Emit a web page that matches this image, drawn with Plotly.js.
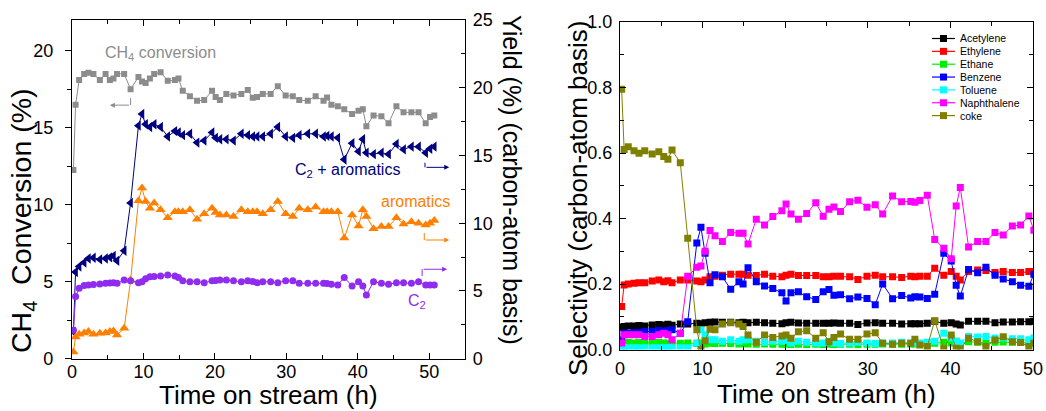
<!DOCTYPE html>
<html><head><meta charset="utf-8">
<script src="https://cdn.plot.ly/plotly-3.0.1.min.js"></script>
<style>html,body{margin:0;padding:0;background:#fff;}#c{width:1046px;height:411px;}</style>
</head><body><div id="c"></div>
<script>
// ---------- DATA ----------
const time_h = [0.2,0.5,1.0,1.7,2.3,3.0,3.9,4.7,5.3,5.8,
 6.3,7.3,8.2,9.3,9.8,10.3,10.9,11.5,12.4,13.4,
 14.4,14.9,15.5,16.5,17.5,18.5,19.6,20.1,20.7,21.6,
 22.6,23.7,24.6,25.3,25.9,26.7,27.8,28.8,29.9,30.9,
 31.8,33.0,34.1,35.2,35.7,36.3,37.2,38.1,39.2,40.1,
 40.7,41.2,42.2,43.3,44.3,45.4,46.4,47.5,48.5,49.5,
 50.1,50.7];

// Left panel
const ch4_conversion = [12.25,16.5,18.1,18.5,18.57,18.5,18.1,18.5,18.1,18.2,
 18.5,18.5,17.5,18.3,18.0,17.9,18.2,18.5,18.6,18.05,
 18.1,18.2,17.4,17.05,16.75,16.8,17.4,17.0,16.8,17.2,
 17.1,17.2,17.45,16.95,17.0,17.2,17.2,17.7,17.1,17.05,
 16.8,16.75,17.05,16.75,16.97,16.5,16.4,16.2,15.9,16.1,
 16.2,15.1,15.8,15.75,15.3,16.4,16.0,16.0,16.0,15.3,
 15.7,15.8];
const yield_c2_aromatics = [2.0,6.4,6.8,7.1,7.4,7.45,7.33,7.4,7.48,7.58,
 7.23,7.97,11.5,17.2,18.06,17.3,17.1,17.3,17.1,16.4,
 16.8,16.7,16.5,16.6,15.95,16.1,16.7,16.3,16.2,16.2,
 16.1,16.6,16.5,16.4,16.4,16.4,16.6,17.1,16.4,16.3,
 16.5,16.6,16.6,16.4,16.45,16.4,16.3,14.7,15.9,15.3,
 16.2,15.2,15.1,15.2,15.1,15.85,15.45,15.65,15.65,15.2,
 15.5,15.65];
const yield_aromatics = [0.5,1.6,1.8,1.9,2.0,1.8,1.87,1.9,2.0,2.04,
 1.75,2.24,5.8,11.66,12.6,11.6,11.1,11.5,11.0,10.4,
 10.85,10.85,10.85,11.0,10.3,10.7,11.1,10.8,10.6,10.6,
 10.5,11.0,10.85,10.85,10.85,10.7,11.0,11.6,10.7,10.5,
 11.1,11.0,11.2,10.85,10.85,10.85,10.85,8.9,10.6,9.8,
 11.0,10.5,9.6,9.75,9.75,10.4,9.95,10.1,10.0,9.87,
 10.0,10.2];
const yield_c2 = [2.1,4.6,5.2,5.4,5.44,5.47,5.52,5.56,5.58,5.6,
 5.56,5.8,5.75,5.6,5.68,5.9,6.05,6.07,6.1,6.18,
 6.1,6.0,5.75,5.68,5.68,5.6,5.75,5.78,5.8,5.8,
 5.75,5.68,5.75,5.7,5.6,5.68,5.68,5.6,5.75,5.75,
 5.56,5.56,5.56,5.56,5.55,5.5,5.44,6.0,5.37,5.68,
 5.37,4.7,5.68,5.56,5.5,5.6,5.6,5.56,5.68,5.44,
 5.44,5.44];

// Right panel (selectivity)
const sel_acetylene = [0.068,0.07,0.072,0.072,0.073,0.072,0.075,0.076,0.075,0.077,
 0.074,0.078,0.078,0.08,0.079,0.082,0.083,0.084,0.083,0.083,
 0.082,0.083,0.082,0.083,0.082,0.08,0.079,0.082,0.083,0.081,
 0.08,0.08,0.08,0.08,0.081,0.08,0.08,0.076,0.081,0.082,
 0.08,0.08,0.078,0.079,0.079,0.079,0.08,0.086,0.08,0.082,
 0.078,0.075,0.086,0.086,0.086,0.082,0.084,0.084,0.085,0.085,
 0.086,0.086];
const sel_ethylene = [0.131,0.197,0.2,0.202,0.204,0.204,0.209,0.212,0.207,0.21,
 0.204,0.212,0.212,0.209,0.207,0.212,0.222,0.224,0.227,0.23,
 0.23,0.23,0.227,0.226,0.23,0.224,0.222,0.227,0.23,0.226,
 0.226,0.226,0.222,0.222,0.224,0.224,0.222,0.214,0.224,0.227,
 0.222,0.222,0.22,0.224,0.222,0.224,0.224,0.248,0.227,0.238,
 0.224,0.212,0.238,0.243,0.241,0.235,0.238,0.235,0.235,0.238,
 0.238,0.238];
const sel_ethane = [0.012,0.02,0.021,0.02,0.021,0.02,0.02,0.021,0.02,0.019,
 0.02,0.019,0.02,0.018,0.02,0.017,0.019,0.018,0.019,0.018,
 0.017,0.018,0.017,0.016,0.017,0.016,0.016,0.017,0.015,0.016,
 0.015,0.016,0.015,0.016,0.015,0.016,0.016,0.015,0.016,0.016,
 0.017,0.016,0.016,0.017,0.017,0.018,0.017,0.019,0.022,0.02,
 0.025,0.018,0.024,0.022,0.02,0.022,0.023,0.022,0.021,0.02,
 0.022,0.022];
const sel_benzene = [0.03,0.05,0.05,0.052,0.052,0.055,0.055,0.058,0.055,0.058,
 0.06,0.05,0.085,0.325,0.373,0.294,0.204,0.228,0.222,0.184,
 0.207,0.2,0.25,0.207,0.194,0.186,0.173,0.148,0.173,0.176,
 0.161,0.153,0.176,0.183,0.166,0.167,0.155,0.16,0.156,0.137,
 0.2,0.155,0.165,0.157,0.161,0.16,0.156,0.169,0.294,0.27,
 0.196,0.163,0.244,0.234,0.251,0.227,0.215,0.207,0.196,0.193,
 0.23,0.23];
const sel_toluene = [0.005,0.005,0.005,0.005,0.005,0.005,0.005,0.005,0.005,0.005,
 0.005,0.005,0.005,0.02,0.06,0.045,0.03,0.03,0.025,0.03,
 0.025,0.03,0.03,0.025,0.022,0.025,0.025,0.028,0.02,0.025,
 0.022,0.02,0.02,0.025,0.02,0.018,0.02,0.022,0.02,0.018,
 0.02,0.02,0.022,0.02,0.02,0.02,0.022,0.025,0.05,0.035,
 0.025,0.02,0.04,0.038,0.04,0.035,0.035,0.033,0.033,0.03,
 0.035,0.035];
const sel_naphthalene = [0.02,0.045,0.045,0.045,0.045,0.04,0.04,0.045,0.05,0.045,
 0.03,0.049,0.224,0.251,0.255,0.3,0.363,0.347,0.33,0.357,
 0.355,0.355,0.322,0.398,0.38,0.406,0.424,0.444,0.414,0.398,
 0.415,0.448,0.407,0.428,0.435,0.421,0.451,0.456,0.434,0.442,
 0.414,0.469,0.451,0.452,0.45,0.455,0.471,0.336,0.309,0.277,
 0.438,0.495,0.313,0.33,0.33,0.357,0.35,0.377,0.38,0.408,
 0.364,0.364];
const sel_coke = [0.795,0.611,0.619,0.607,0.599,0.607,0.597,0.604,0.589,0.581,
 0.609,0.57,0.34,0.06,0.0,0.027,0.062,0.06,0.078,0.082,
 0.078,0.07,0.044,0.022,0.044,0.037,0.041,0.044,0.034,0.054,
 0.057,0.034,0.051,0.024,0.037,0.047,0.031,0.031,0.047,0.051,
 0.019,0.016,0.019,0.019,0.031,0.014,0.009,0.088,0.002,0.044,
 0.004,0.002,0.034,0.024,0.009,0.029,0.039,0.024,0.021,0.009,
 0.019,0.019];

const sel_names = ["Acetylene","Ethylene","Ethane","Benzene","Toluene","Naphthalene","coke"];
const sel_series = [sel_acetylene, sel_ethylene, sel_ethane, sel_benzene, sel_toluene, sel_naphthalene, sel_coke];
const sel_colors = ["#000000","#ff0000","#00ee00","#0000ff","#00ffff","#ff00ff","#808000"];

// ---------- TRACES ----------
const FONT = "Liberation Sans, Arial, sans-serif";
const traces = [];
function left(y, color, symbol, size, yaxis){
  traces.push({x: time_h, y: y, xaxis:'x', yaxis: yaxis, type:'scatter', mode:'lines+markers',
    showlegend:false, line:{color:color, width:1}, marker:{color:color, symbol:symbol, size:size}});
}
left(ch4_conversion, "#8c8c8c", "square", 6, 'y');
left(yield_c2_aromatics, "#000080", "triangle-left", 9, 'y2');
left(yield_aromatics, "#ff8000", "triangle-up", 9, 'y2');
left(yield_c2, "#8f2cf0", "circle", 7, 'y2');

sel_series.forEach((s,i)=>{
  traces.push({x: time_h, y: s, xaxis:'x2', yaxis:'y3', type:'scatter', mode:'lines+markers',
    name: sel_names[i], showlegend:false, line:{color: sel_colors[i], width:1},
    marker:{color: sel_colors[i], symbol:'square', size:7}});
});

// ---------- LAYOUT ----------
const W = 1046, H = 411;
const px = v => v / W, py = v => 1 - v / H;

const axBase = {showline:true, linecolor:'#000', linewidth:1.2, showgrid:false, zeroline:false,
  tickcolor:'#000', tickfont:{family:FONT, size:18, color:'#000'}};

const ann = [];
const shapes = [];
function txt(t, x, y, size, color, angle, xanchor, xref, yref){
  ann.push({text:t, x:x, y:y, xref:xref||'paper', yref:yref||'paper', showarrow:false,
    font:{family:FONT, size:size, color:color||'#000'}, textangle:angle||0,
    xanchor:xanchor||'center', yanchor:'middle'});
}
txt("Time on stream (h)", px(268), py(395), 26);
txt("Time on stream (h)", px(826), py(394), 26);
txt("CH<sub>4</sub>  Conversion (%)", px(23), py(221), 28.5, '#000', -90);
txt("Yield (%) (carbon-atom basis)", px(512), py(180), 25, '#000', 90);
txt("Selectivity (carbon-atom basis)", px(578), py(199), 26, '#000', -90);
// in-plot labels (left panel data coordinates)
txt("CH<sub>4</sub> conversion", 4.3, 19.85, 16, '#8c8c8c', 0, 'left', 'x', 'y');
txt("C<sub>2</sub> + aromatics", 38.5, 12.25, 16, '#000080', 0, 'center', 'x', 'y');
txt("aromatics", 48.1, 10.2, 16, '#ff8000', 0, 'center', 'x', 'y');
txt("C<sub>2</sub>", 48.3, 3.7, 16, '#8f2cf0', 0, 'center', 'x', 'y');

// axis-pointer arrows (left panel)
const arrows = [
  {c:'#8c8c8c', x0:8.2, y0:16.93, y1:16.47, x1:5.3},
  {c:'#000080', x0:49.4, y0:12.73, y1:12.43, x1:52.8},
  {c:'#ff8000', x0:49.3, y0:8.16, y1:7.71, x1:52.8},
  {c:'#8f2cf0', x0:49.0, y0:5.37, y1:5.81, x1:52.5}
];
arrows.forEach(a=>{
  shapes.push({type:'line', xref:'x', yref:'y', x0:a.x0, x1:a.x0, y0:a.y0, y1:a.y1, line:{color:a.c, width:1}});
  ann.push({x:a.x1, y:a.y1, ax:a.x0, ay:a.y1, xref:'x', yref:'y', axref:'x', ayref:'y', text:'',
    showarrow:true, arrowhead:2, arrowsize:1, arrowwidth:1, arrowcolor:a.c});
});

// compact legend for the selectivity panel (keys built from sel_names / sel_colors)
const LEG_X0 = 932, LEG_X1 = 955, LEG_TXT = 958, LEG_Y0 = 38.5, LEG_DY = 12.85, LEG_SQ = 3.5;
sel_names.forEach((n,i)=>{
  const yy = LEG_Y0 + i*LEG_DY;
  const c = sel_colors[i];
  shapes.push({type:'line', xref:'paper', yref:'paper', x0:px(LEG_X0), x1:px(LEG_X1), y0:py(yy), y1:py(yy),
    line:{color:c, width:1.2}});
  const xm = (LEG_X0+LEG_X1)/2;
  shapes.push({type:'rect', xref:'paper', yref:'paper', x0:px(xm-LEG_SQ), x1:px(xm+LEG_SQ),
    y0:py(yy+LEG_SQ), y1:py(yy-LEG_SQ), fillcolor:c, line:{width:0}});
  ann.push({text:n, x:px(LEG_TXT), y:py(yy), xref:'paper', yref:'paper', showarrow:false,
    xanchor:'left', yanchor:'middle', font:{family:FONT, size:10.5, color:'#000'}});
});

const layout = {
  width: W, height: H, margin:{l:0,r:0,t:0,b:0}, paper_bgcolor:'#fff', plot_bgcolor:'#fff',
  font:{family:FONT}, showlegend:false,
  xaxis: Object.assign({}, axBase, {domain:[px(72), px(465)], range:[0,55], dtick:10, anchor:'y',
    ticks:'inside', ticklen:6, mirror:'ticks', ticklabelstandoff:-4,
    minor:{dtick:5, ticks:'inside', ticklen:4, tickcolor:'#000'}}),
  yaxis: Object.assign({}, axBase, {domain:[1-358.7/H, 1-20/H], range:[0,22], dtick:5, anchor:'x',
    ticks:'outside', ticklen:6, ticklabelstandoff:8,
    minor:{dtick:2.5, ticks:'outside', ticklen:4, tickcolor:'#000'}}),
  yaxis2: Object.assign({}, axBase, {overlaying:'y', side:'right', anchor:'x', range:[0,25], dtick:5,
    ticks:'inside', ticklen:6, ticklabelstandoff:3,
    minor:{dtick:2.5, ticks:'inside', ticklen:4, tickcolor:'#000'}}),
  xaxis2: Object.assign({}, axBase, {domain:[px(620), px(1033)], range:[0,50], dtick:10, anchor:'y3',
    ticks:'inside', ticklen:6, mirror:'ticks', ticklabelstandoff:3,
    minor:{dtick:5, ticks:'inside', ticklen:4, tickcolor:'#000'}}),
  yaxis3: Object.assign({}, axBase, {domain:[1-349.5/H, 1-22/H], range:[0,1], dtick:0.2, tickformat:'.1f',
    anchor:'x2', ticks:'inside', ticklen:6, mirror:'ticks', ticklabelstandoff:3,
    minor:{dtick:0.1, ticks:'inside', ticklen:4, tickcolor:'#000'}}),
  annotations: ann, shapes: shapes
};

Plotly.newPlot('c', traces, layout, {staticPlot:true, displayModeBar:false});
</script></body></html>
